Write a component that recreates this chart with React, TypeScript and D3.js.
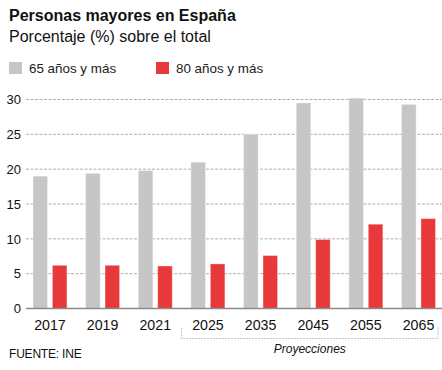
import { useEffect, useRef } from "react";
import * as d3 from "d3";

const YEARS = ["2017", "2019", "2021", "2025", "2035", "2045", "2055", "2065"];
const SERIES = [
  { key: "65", label: "65 años y más", color: "#c6c6c6" },
  { key: "80", label: "80 años y más", color: "#e8393a" },
];
const VALUES_65 = [19.0, 19.4, 19.8, 21.0, 25.0, 29.5, 30.2, 29.3];
const VALUES_80 = [6.2, 6.2, 6.1, 6.4, 7.6, 9.9, 12.1, 12.9];
const Y_TICKS = [0, 5, 10, 15, 20, 25, 30];
const PROJECTED = ["2025", "2065"];

const FONT = "'Liberation Sans', Arial, Helvetica, sans-serif";

export default function App() {
  const svgRef = useRef<SVGSVGElement>(null);

  useEffect(() => {
    if (!svgRef.current) return;
    const W = 442;
    const H = 370;

    const svg = d3.select(svgRef.current);
    svg.selectAll("*").remove();
    svg.attr("width", W).attr("height", H).attr("viewBox", `0 0 ${W} ${H}`);

    svg.append("rect").attr("width", W).attr("height", H).attr("fill", "#fff");

    // Title
    svg.append("text")
      .attr("x", 9).attr("y", 21)
      .attr("font-family", FONT).attr("font-size", 16).attr("font-weight", "bold")
      .attr("fill", "#111")
      .text("Personas mayores en España");
    svg.append("text")
      .attr("x", 9).attr("y", 42)
      .attr("font-family", FONT).attr("font-size", 16)
      .attr("fill", "#111")
      .text("Porcentaje (%) sobre el total");

    // Legend
    const legendX = [9, 156];
    SERIES.forEach((s, i) => {
      svg.append("rect")
        .attr("x", legendX[i]).attr("y", 62)
        .attr("width", 13).attr("height", 12)
        .attr("fill", s.color);
      svg.append("text")
        .attr("x", legendX[i] + 20).attr("y", 72.5)
        .attr("font-family", FONT).attr("font-size", 13.4)
        .attr("fill", "#222")
        .text(s.label);
    });

    const y = d3.scaleLinear().domain([0, 30]).range([308.5, 99.5]);
    const x0 = d3.scaleBand<string>()
      .domain(YEARS)
      .range([26, 442.5])
      .paddingInner(0.355)
      .paddingOuter(0.1328);
    const x1 = d3.scaleBand<string>()
      .domain(SERIES.map((s) => s.key))
      .range([0, x0.bandwidth()])
      .paddingInner(0.25);

    // Grid
    Y_TICKS.filter((t) => t > 0).forEach((t) => {
      svg.append("line")
        .attr("x1", 26).attr("x2", 442)
        .attr("y1", y(t)).attr("y2", y(t))
        .attr("stroke", "#b0b0b0")
        .attr("stroke-width", 1)
        .attr("stroke-dasharray", "3 1.5");
    });

    // Y labels
    Y_TICKS.forEach((t) => {
      svg.append("text")
        .attr("x", 21).attr("y", y(t))
        .attr("dy", "0.36em")
        .attr("text-anchor", "end")
        .attr("font-family", FONT).attr("font-size", 13)
        .attr("fill", "#111")
        .text(t);
    });

    // Bars
    const data = YEARS.map((yr, i) => ({ year: yr, "65": VALUES_65[i], "80": VALUES_80[i] }));
    const groups = svg.append("g")
      .selectAll("g")
      .data(data)
      .join("g")
      .attr("transform", (d) => `translate(${x0(d.year)},0)`);
    groups.selectAll("rect")
      .data((d) => SERIES.map((s) => ({ key: s.key, color: s.color, value: (d as any)[s.key] as number })))
      .join("rect")
      .attr("x", (d) => x1(d.key)!)
      .attr("y", (d) => y(d.value))
      .attr("width", x1.bandwidth())
      .attr("height", (d) => y(0) - y(d.value))
      .attr("fill", (d) => d.color)
      .attr("stroke", "rgba(255,255,255,0.35)")
      .attr("stroke-width", 1);

    // Baseline
    svg.append("line")
      .attr("x1", 26).attr("x2", 442)
      .attr("y1", y(0)).attr("y2", y(0))
      .attr("stroke", "#8a8a8a")
      .attr("stroke-width", 1.5);

    // X labels
    YEARS.forEach((yr) => {
      svg.append("text")
        .attr("x", x0(yr)! + x0.bandwidth() / 2)
        .attr("y", 330)
        .attr("text-anchor", "middle")
        .attr("font-family", FONT).attr("font-size", 14.2)
        .attr("fill", "#111")
        .text(yr);
    });

    // Projection bracket
    const gap = x0.step() - x0.bandwidth();
    const bx1 = x0(PROJECTED[0])! - gap / 2;
    const bx2 = x0(PROJECTED[1])! + x0.bandwidth() + 2.5;
    svg.append("path")
      .attr("d", `M${bx1},328V338.5H${bx2}V327`)
      .attr("fill", "none")
      .attr("stroke", "#c4c4c4")
      .attr("stroke-width", 1)
      .attr("stroke-dasharray", "2 1");
    svg.append("text")
      .attr("x", (bx1 + bx2) / 2).attr("y", 352.5)
      .attr("text-anchor", "middle")
      .attr("font-family", FONT).attr("font-size", 12).attr("font-style", "italic")
      .attr("fill", "#111")
      .text("Proyecciones");

    // Source
    svg.append("text")
      .attr("x", 9).attr("y", 358)
      .attr("font-family", FONT).attr("font-size", 12)
      .attr("letter-spacing", -0.2)
      .attr("fill", "#111")
      .text("FUENTE: INE");
  }, []);

  return (
    <div style={{ position: "absolute", left: 0, top: 0 }}>
      <svg ref={svgRef} style={{ display: "block" }} />
    </div>
  );
}
